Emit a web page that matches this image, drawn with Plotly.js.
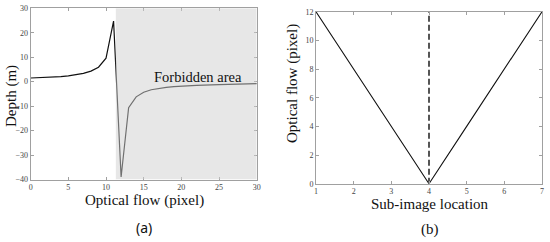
<!DOCTYPE html>
<html><head><meta charset="utf-8">
<script src="https://cdn.plot.ly/plotly-3.0.1.min.js"></script>
<style>html,body{margin:0;padding:0;background:#fff}#c{width:550px;height:242px}</style>
</head><body><div id="c"></div>
<script>
// (a) Depth vs optical flow
const flowA = [0, 1, 2, 3, 4, 5, 6, 7, 8, 9, 10, 11, 12, 13, 14, 15, 16, 17, 18, 19, 20, 22, 25, 28, 30];
const depthA = [1.5, 1.6, 1.8, 1.9, 2.1, 2.4, 2.8, 3.4, 4.3, 5.9, 9.6, 24.8, -39, -10.6, -6.2, -4.3, -3.3, -2.7, -2.3, -2.0, -1.8, -1.5, -1.2, -0.95, -0.8];
const forbiddenStart = 11.3;
// (b) Optical flow vs sub-image location
const locB = [1, 2, 3, 4, 5, 6, 7];
const flowB = [12, 8, 4, 0, 4, 8, 12];
const centerLoc = 4;
const centerRange = [0, 12];

const serif = 'Liberation Serif, DejaVu Serif, serif';
const tickFont = {family: serif, size: 8, color: '#444'};
const titleFont = {family: serif, size: 15, color: '#111'};
const axBase = {showgrid: false, zeroline: false, showline: true, linecolor: '#a0a0a0', linewidth: 1,
  mirror: 'ticks', ticks: 'inside', ticklen: 3, tickcolor: '#a0a0a0', tickfont: tickFont, fixedrange: true};

const data = [
  {x: flowA, y: depthA, type: 'scatter', mode: 'lines', line: {color: '#111', width: 1.2}, xaxis: 'x', yaxis: 'y', hoverinfo: 'skip'},
  {x: locB, y: flowB, type: 'scatter', mode: 'lines', line: {color: '#111', width: 1.1}, xaxis: 'x2', yaxis: 'y2', hoverinfo: 'skip'},
  {x: [centerLoc, centerLoc], y: centerRange, type: 'scatter', mode: 'lines', line: {color: '#555', width: 2, dash: '6px,3px'}, xaxis: 'x2', yaxis: 'y2', hoverinfo: 'skip'}
];

function ann(text, x, y, font, angle) {
  return {text: text, xref: 'paper', yref: 'paper', x: x/550, y: 1-y/242, xanchor: 'center', yanchor: 'middle',
    textangle: angle || 0, showarrow: false, font: font};
}

const layout = {
  width: 550, height: 242, margin: {l: 0, r: 0, t: 0, b: 0}, showlegend: false,
  paper_bgcolor: '#fff', plot_bgcolor: '#fff',
  xaxis: Object.assign({}, axBase, {domain: [30.7/550, 256.7/550], range: [0, 30], tickvals: [0,5,10,15,20,25,30], anchor: 'y'}),
  yaxis: Object.assign({}, axBase, {domain: [1-179.5/242, 1-8.3/242], range: [-40, 30], tickvals: [-40,-30,-20,-10,0,10,20,30], anchor: 'x'}),
  xaxis2: Object.assign({}, axBase, {domain: [316/550, 542/550], range: [1, 7], tickvals: [1,2,3,4,5,6,7], anchor: 'y2'}),
  yaxis2: Object.assign({}, axBase, {domain: [1-183.7/242, 1-11.7/242], range: [0, 12], tickvals: [0,2,4,6,8,10,12], anchor: 'x2'}),
  shapes: [
    {type: 'rect', xref: 'x', yref: 'y', x0: forbiddenStart, x1: 30, y0: -40, y1: 30, fillcolor: '#cfcfcf', opacity: 0.5, line: {width: 0}, layer: 'above'}
  ],
  annotations: [
    ann('Forbidden area', 198, 77, {family: serif, size: 14.5, color: '#111'}),
    ann('Depth (m)', 11, 96, titleFont, -90),
    ann('Optical flow (pixel)', 144, 200, titleFont),
    ann('(a)', 144, 227, {family: 'Noto Sans, sans-serif', size: 14, color: '#111'}),
    ann('Optical flow (pixel)', 293, 84, titleFont, -90),
    ann('Sub-image location', 430, 204, titleFont),
    ann('(b)', 430, 229, {family: serif, size: 15, color: '#111'})
  ]
};
Plotly.newPlot('c', data, layout, {displayModeBar: false, staticPlot: true});
</script></body></html>
